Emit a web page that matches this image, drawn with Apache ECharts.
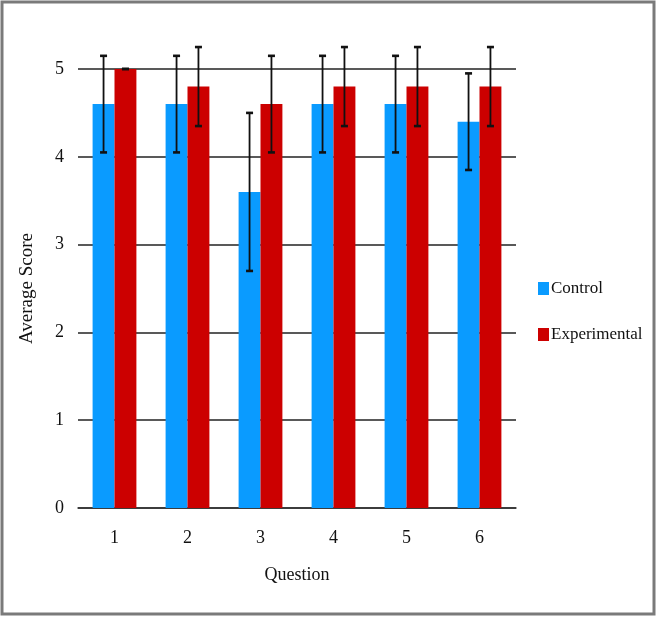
<!DOCTYPE html>
<html>
<head>
<meta charset="utf-8">
<script src="https://cdn.jsdelivr.net/npm/echarts@6/dist/echarts.min.js"></script>
<style>
  html, body { margin: 0; padding: 0; background: #fff; }
  #chart { width: 657px; height: 617px; }
</style>
</head>
<body>
<div id="chart"></div>
<script>
const questions = ["1", "2", "3", "4", "5", "6"];
const controlMeans = [4.6, 4.6, 3.6, 4.6, 4.6, 4.4];
const controlErrors = [0.55, 0.55, 0.9, 0.55, 0.55, 0.55];
const experimentalMeans = [5.0, 4.8, 4.6, 4.8, 4.8, 4.8];
const experimentalErrors = [0, 0.45, 0.55, 0.45, 0.45, 0.45];

const BLUE = "#0A9BFF";
const RED = "#CC0000";
const FONT = "Liberation Serif";

const chart = echarts.init(document.getElementById("chart"));

// error bar renderer, side = -1 for left bar, +1 for right bar
function errorBars(means, errors, side) {
  return {
    type: "custom",
    clip: false,
    z: 10,
    silent: true,
    data: means.map((m, i) => [i, m - errors[i], m + errors[i]]),
    renderItem: (params, api) => {
      const band = api.size([1, 0])[0];
      const off = side * band * 0.15;
      const low = api.coord([api.value(0), api.value(1)]);
      const high = api.coord([api.value(0), api.value(2)]);
      const x = low[0] + off;
      const cap = 3.5;
      const style = { stroke: "#111", lineWidth: 1.8 };
      return {
        type: "group",
        children: [
          { type: "line", shape: { x1: x, y1: low[1], x2: x, y2: high[1] }, style },
          { type: "line", shape: { x1: x - cap, y1: high[1], x2: x + cap, y2: high[1] }, style: { stroke: "#111", lineWidth: 2.6 } },
          { type: "line", shape: { x1: x - cap, y1: low[1], x2: x + cap, y2: low[1] }, style: { stroke: "#111", lineWidth: 2.6 } },
        ],
      };
    },
  };
}

const option = {
  animation: false,
  textStyle: { fontFamily: FONT, color: "#111" },
  graphic: [
    {
      type: "rect",
      shape: { x: 2, y: 2, width: 652, height: 612 },
      style: { fill: "none", stroke: "#7a7a7a", lineWidth: 3 },
    },
  ],
  grid: { left: 78, right: 141, top: 69, bottom: 109 },
  legend: {
    orient: "vertical",
    left: 533,
    top: 275,
    itemWidth: 11,
    itemHeight: 13,
    itemGap: 29,
    icon: "rect",
    textStyle: { fontFamily: FONT, fontSize: 17, color: "#111", padding: [0, 0, 0, -3] },
    data: ["Control", "Experimental"],
  },
  xAxis: {
    type: "category",
    data: questions,
    name: "Question",
    nameLocation: "middle",
    nameGap: 58,
    nameTextStyle: { fontFamily: FONT, fontSize: 18, color: "#111" },
    axisTick: { show: false },
    axisLine: { lineStyle: { color: "#333", width: 1.5 } },
    axisLabel: { fontFamily: FONT, fontSize: 18, color: "#111", margin: 21 },
  },
  yAxis: {
    type: "value",
    min: 0,
    max: 5,
    interval: 1,
    name: "Average Score",
    nameLocation: "middle",
    nameGap: 41,
    nameTextStyle: { fontFamily: FONT, fontSize: 19, color: "#111" },
    axisLine: { show: false },
    axisTick: { show: false },
    axisLabel: { fontFamily: FONT, fontSize: 18, color: "#111", margin: 14 },
    splitLine: { lineStyle: { color: "#222", width: 1.5 } },
  },
  series: [
    {
      name: "Control",
      type: "bar",
      data: controlMeans,
      barWidth: "30%",
      barGap: "0%",
      itemStyle: { color: BLUE },
    },
    {
      name: "Experimental",
      type: "bar",
      data: experimentalMeans,
      barWidth: "30%",
      barGap: "0%",
      itemStyle: { color: RED },
    },
    errorBars(controlMeans, controlErrors, -1),
    errorBars(experimentalMeans, experimentalErrors, 1),
  ],
};

chart.setOption(option);
</script>
</body>
</html>
